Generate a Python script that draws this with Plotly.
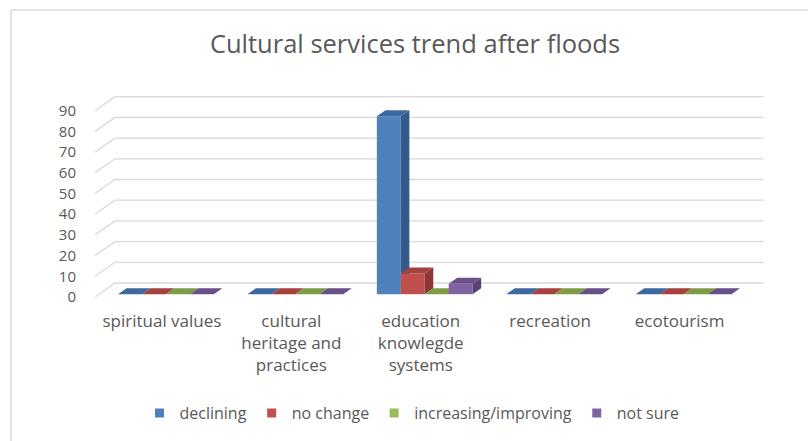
import plotly.graph_objects as go

# ---- data -------------------------------------------------------------
categories = [
    "spiritual values",
    "cultural<br>heritage and<br>practices",
    "education<br>knowlegde<br>systems",
    "recreation",
    "ecotourism",
]
series_names = ["declining", "no change", "increasing/improving", "not sure"]
declining = [0, 0, 86, 0, 0]
no_change = [0, 0, 10, 0, 0]
increasing = [0, 0, 0, 0, 0]
not_sure = [0, 0, 5, 0, 0]
y_ticks = [0, 10, 20, 30, 40, 50, 60, 70, 80, 90]

series_values = [declining, no_change, increasing, not_sure]
# front, top, side shades for the pseudo-3D columns
series_colors = [
    ("#4F81BD", "#3D69A0", "#34598A"),
    ("#C0504D", "#A5413E", "#8C3836"),
    ("#9BBB59", "#7E9C45", "#6B863A"),
    ("#8064A2", "#68518A", "#574475"),
]

# ---- pseudo-3D projection (depth expressed in axis units) -------------
DEPTH_X = 0.154       # horizontal shift from floor front to back wall
DEPTH_Y = 6.76        # vertical shift from floor front to back wall
BAR_D0, BAR_D1 = 0.2, 0.63   # depth span of each column
BAR_W = 0.185
X_LEFT, X_RIGHT = -0.517, 4.495
GRID = "#D9D9D9"
TEXT = "#595959"
FONT = "Open Sans"


def proj(x, v, d):
    return x + d * DEPTH_X, v + d * DEPTH_Y


fig = go.Figure()

# back wall / side wall gridlines
gx, gy = [], []
for t in y_ticks:
    p0 = proj(X_LEFT, t, 0)
    p1 = proj(X_LEFT, t, 1)
    p2 = proj(X_RIGHT, t, 1)
    gx += [p0[0], p1[0], p2[0], None]
    gy += [p0[1], p1[1], p2[1], None]
fig.add_trace(go.Scatter(x=gx, y=gy, mode="lines", line=dict(color=GRID, width=1.3),
                         hoverinfo="skip", showlegend=False))


def poly(pts, color):
    xs = [p[0] for p in pts] + [pts[0][0]]
    ys = [p[1] for p in pts] + [pts[0][1]]
    fig.add_trace(go.Scatter(x=xs, y=ys, mode="lines", fill="toself", fillcolor=color,
                             line=dict(width=0, color=color), hoverinfo="skip",
                             showlegend=False))


for i, _ in enumerate(categories):
    for k, vals in enumerate(series_values):
        v = vals[i]
        front, top, side = series_colors[k]
        x0 = i + (k - 2) * BAR_W
        x1 = x0 + BAR_W
        # front face
        if v > 0:
            poly([proj(x0, 0, BAR_D0), proj(x1, 0, BAR_D0),
                  proj(x1, v, BAR_D0), proj(x0, v, BAR_D0)], front)
        # right side face
        if v > 0:
            poly([proj(x1, 0, BAR_D0), proj(x1, 0, BAR_D1),
                  proj(x1, v, BAR_D1), proj(x1, v, BAR_D0)], side)
        # top face
        poly([proj(x0, v, BAR_D0), proj(x1, v, BAR_D0),
              proj(x1, v, BAR_D1), proj(x0, v, BAR_D1)], top)

# legend entries
for k, name in enumerate(series_names):
    fig.add_trace(go.Scatter(x=[None], y=[None], mode="markers", name=name,
                             marker=dict(symbol="square", size=9, color=series_colors[k][0])))

fig.update_layout(
    width=808, height=441,
    margin=dict(l=95, r=43, t=90, b=144),
    paper_bgcolor="white", plot_bgcolor="white",
    font=dict(family=FONT, color=TEXT, size=16),
    title=dict(text="Cultural services trend after floods", xref="container", yref="container",
               x=415 / 808, y=1 - 44 / 441, xanchor="center", yanchor="middle",
               font=dict(family=FONT, size=25.5, color=TEXT)),
    xaxis=dict(range=[-0.517, 4.66], tickvals=list(range(len(categories))), ticktext=categories,
               showgrid=False, zeroline=False, showline=False, ticks="",
               ticklabelstandoff=12, tickfont=dict(size=17, color=TEXT), fixedrange=True),
    yaxis=dict(range=[0, 100], tickvals=y_ticks, showgrid=False, zeroline=False,
               showline=False, ticks="", ticklabelstandoff=18,
               tickfont=dict(size=15, color=TEXT), fixedrange=True),
    legend=dict(orientation="h", xref="container", yref="container", x=412 / 808,
                y=1 - 413 / 441, xanchor="center", yanchor="middle",
                font=dict(size=16, color=TEXT), itemwidth=30),
    shapes=[
        dict(type="line", xref="paper", yref="paper", x0=-0.1253, x1=1.2, y0=1.3865, y1=1.3865,
             line=dict(color=GRID, width=1.5)),
        dict(type="line", xref="paper", yref="paper", x0=-0.1253, x1=-0.1253, y0=1.3865, y1=-0.8,
             line=dict(color=GRID, width=1.5)),
    ],
    showlegend=True,
)

fig.write_html("out.html")
